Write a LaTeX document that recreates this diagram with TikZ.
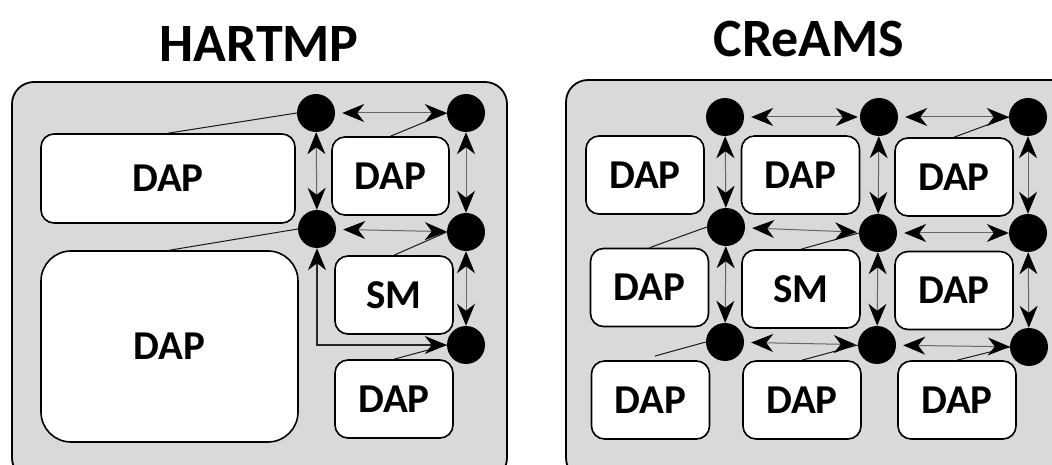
\documentclass[tikz,border=0pt]{standalone}
\usepackage{fontspec}
\setmainfont{Carlito}
\usetikzlibrary{arrows.meta,positioning}

\tikzset{
  panel/.style={draw=black, line width=1.8pt, fill=black!15, rounded corners=22pt},
  tilebox/.style={draw=black, line width=1.6pt, fill=white, rounded corners=13pt,
    inner sep=0pt, minimum width=118pt, minimum height=78pt,
    font=\fontsize{41}{44}\selectfont\bfseries},
  router/.style={circle, fill=black, minimum size=38pt, inner sep=0pt},
  wire/.style={line width=1pt, draw=black!90},
  link/.style={{Stealth[length=22pt,width=18pt,inset=7pt,color=black]}-{Stealth[length=22pt,width=18pt,inset=7pt,color=black]},
    line width=1pt, draw=black!60},
  title/.style={font=\fontsize{54}{60}\selectfont\bfseries}
}

\begin{document}
\begin{tikzpicture}[x=1pt,y=-1pt]
\clip (0,0) rectangle (1052,465);
% Titles
\node[title] (hartmp) at (259,44) {HARTMP};
\node[title] (creams) at (809,39) {CReAMS};
% Panels
\draw[panel] (12,82) rectangle (507,480);
\draw[panel] (566,80) rectangle (1075,480);

% ---- HARTMP ----
\node[tilebox, minimum width=254pt, minimum height=89pt] (hdapa) at (168,178.5) {DAP};
\node[tilebox, minimum width=257pt, minimum height=191pt, rounded corners=30pt] (hdapb) at (169.5,346.5) {DAP};
\node[tilebox, minimum width=117pt] (hdapc) at (390.5,176) {DAP};
\node[tilebox] (hsm) at (394,295) {SM};
\node[tilebox] (hdapd) at (394,399) {DAP};
% routers
\node[router] (ha1) at (316,113) {};
\node[router] (ha2) at (466,113) {};
\node[router] (hb1) at (317,229) {};
\node[router] (hb2) at (466,232) {};
\node[router] (hc2) at (466,345) {};
% local links
\draw[wire] (hdapa.north) -- (ha1.west);
\draw[wire] (hdapc.north) -- (ha2.west);
\draw[wire] (hdapb.north) -- (hb1.west);
\draw[wire] (hsm.north) -- (hb2.west);
\draw[wire] (hdapd.north) -- (hc2.west);
% router links
\draw[link, shorten <=7pt] (ha1) -- (ha2);
\draw[link, shorten <=7pt] (hb1) -- (hb2);
\draw[link] (ha1) -- (hb1);
\draw[link] (ha2) -- (hb2);
\draw[link] (hb2) -- (hc2);
\draw[link, draw=black!85, line width=1.3pt] (hc2.west) -| (hb1.south);

% ---- CReAMS ----
\foreach \n/\x/\y/\l in {c11/645/175/DAP, c12/800.5/175/DAP, c13/954/177/DAP,
                         c21/649.5/287.5/DAP, c22/801/289/SM, c23/954/290.5/DAP,
                         c31/650.5/400/DAP, c32/802/400/DAP, c33/957/400/DAP} {
  \node[tilebox] (d\n) at (\x,\y) {\l};
}
\foreach \n/\x/\y in {11/725/117, 12/879/117, 13/1028/117,
                      21/726/227, 22/878/233, 23/1028/233,
                      31/725/342, 32/877/345, 33/1029/347} {
  \node[router] (r\n) at (\x,\y) {};
}
% local links
\coordinate (free31) at (655,356);
\draw[wire] (dc13.north) -- (r13.west);
\draw[wire] (dc21.north) -- (r21.west);
\draw[wire] (dc22.north) -- (r22.west);
\draw[wire] (free31) -- (r31.west);
\draw[wire] (dc32.north) -- (r32.west);
\draw[wire] (dc33.north) -- (r33.west);
% router links
\foreach \i in {1,2,3} {
  \draw[link, shorten <=7pt, shorten >=2pt] (r\i1) -- (r\i2);
  \draw[link, shorten <=7pt] (r\i2) -- (r\i3);
}
\foreach \j in {1,2,3} {
  \draw[link] (r1\j) -- (r2\j);
  \draw[link] (r2\j) -- (r3\j);
}
\end{tikzpicture}
\end{document}
